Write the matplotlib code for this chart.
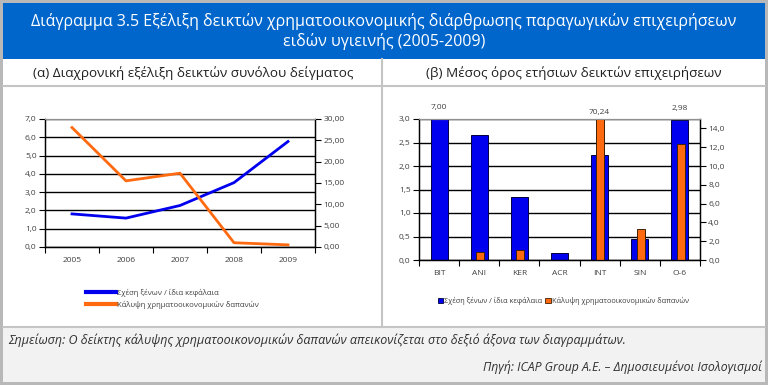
import matplotlib.pyplot as plt
import numpy as np
from matplotlib.patches import Rectangle
from matplotlib.lines import Line2D
from matplotlib.ticker import FuncFormatter, MultipleLocator

plt.rcParams['font.family'] = ['Open Sans', 'DejaVu Sans']

# (α) yearly evolution
years = ['2005', '2006', '2007', '2008', '2009']
debt_equity = [1.81, 1.58, 2.27, 3.52, 5.77]
fin_cover = [28.0, 15.5, 17.3, 1.0, 0.5]

# (β) company averages
companies = ['BIT', 'ANI', 'KER', 'ACR', 'INT', 'SIN', 'O-6']
avg_debt_equity = [7.00, 2.66, 1.33, 0.14, 2.23, 0.44, 2.98]
avg_fin_cover = [0.0, 0.88, 1.03, 0.0, 70.24, 3.3, 12.3]
labelled_left = ['BIT', 'O-6']
labelled_right = ['INT']

label1 = 'Σχέση ξένων / ίδια κεφάλαια'
label2 = 'Κάλυψη χρηματοοικονομικών δαπανών'

BLUE = '#0000ee'
ORANGE = '#ff6a10'
TXT = '#404040'

W, H = 768, 385
fig = plt.figure(figsize=(W / 100, H / 100), dpi=100)
fig.patch.set_facecolor('#b8b8b8')


def px_rect(x0, y0, x1, y1, **kw):
    fig.patches.append(Rectangle((x0 / W, 1 - y1 / H), (x1 - x0) / W, (y1 - y0) / H,
                                 transform=fig.transFigure, zorder=-2, **kw))


def px_line(xs, ys, **kw):
    fig.lines.append(Line2D([x / W for x in xs], [1 - y / H for y in ys],
                            transform=fig.transFigure, zorder=-1, **kw))


def px_text(x, y, s, **kw):
    fig.text(x / W, 1 - y / H, s, **kw)


def comma(fmt):
    return FuncFormatter(lambda v, p: format(v, fmt).replace('.', ','))


# frame
px_rect(3, 3, 765, 382, facecolor='white', edgecolor='none')
px_rect(3, 3, 765, 59, facecolor='#0066cc', edgecolor='none')
px_rect(3, 327, 765, 382, facecolor='#f2f2f2', edgecolor='none')
px_line([3, 765], [86, 86], color='#c4c4c4', lw=1.5)
px_line([382, 382], [59, 327], color='#c4c4c4', lw=1.5)
px_line([3, 765], [327, 327], color='#c4c4c4', lw=1.5)

px_text(384, 22, 'Διάγραμμα 3.5 Εξέλιξη δεικτών χρηματοοικονομικής διάρθρωσης παραγωγικών επιχειρήσεων',
        color='white', fontsize=11.5, ha='center', va='center')
px_text(384, 42, 'ειδών υγιεινής (2005-2009)', color='white', fontsize=11.5, ha='center', va='center')
px_text(193, 73, '(α) Διαχρονική εξέλιξη δεικτών συνόλου δείγματος', color='#202020',
        fontsize=9.7, ha='center', va='center')
px_text(574, 73, '(β) Μέσος όρος ετήσιων δεικτών επιχειρήσεων', color='#202020',
        fontsize=9.7, ha='center', va='center')
px_text(8, 340, 'Σημείωση: Ο δείκτης κάλυψης χρηματοοικονομικών δαπανών απεικονίζεται στο δεξιό άξονα των διαγραμμάτων.',
        color='#303030', fontsize=9, style='italic', ha='left', va='center')
px_text(762, 367, 'Πηγή: ICAP Group A.E. – Δημοσιευμένοι Ισολογισμοί',
        color='#303030', fontsize=8.8, style='italic', ha='right', va='center')


def style_axes(ax, ax2, n):
    ax.set_facecolor('none')
    ax.set_xlim(-0.5, n - 0.5)
    ax.set_xticks(range(n))
    ax.set_xticks(np.arange(n + 1) - 0.5, minor=True)
    ax.tick_params(axis='x', which='major', length=0, pad=7, labelsize=6, labelcolor=TXT)
    ax.tick_params(axis='x', which='minor', length=4, width=0.8, color='black')
    ax.tick_params(axis='y', length=4, width=0.8, labelsize=6, labelcolor=TXT, pad=2)
    ax2.tick_params(axis='y', length=4, width=0.8, labelsize=6, labelcolor=TXT, pad=2)
    ax.yaxis.grid(True, color='black', lw=1)
    ax.set_axisbelow(True)
    for a in (ax, ax2):
        for side in ('left', 'right', 'bottom'):
            a.spines[side].set_color('black')
            a.spines[side].set_linewidth(0.9)
        a.spines['top'].set_color('#909090')


# left chart
ax = fig.add_axes([45 / W, 1 - 247 / H, 270 / W, 128 / H])
ax2 = ax.twinx()
x = np.arange(len(years))
ax.plot(x, debt_equity, color=BLUE, lw=2, zorder=3)
ax2.plot(x, fin_cover, color=ORANGE, lw=2)
ax.set_ylim(0, 7)
ax.yaxis.set_major_locator(MultipleLocator(1))
ax.yaxis.set_major_formatter(comma('.1f'))
ax2.set_ylim(0, 30)
ax2.yaxis.set_major_locator(MultipleLocator(5))
ax2.yaxis.set_major_formatter(comma('.2f'))
ax.set_xticklabels(years)
style_axes(ax, ax2, len(years))
handles = [Line2D([], [], color=BLUE, lw=3), Line2D([], [], color=ORANGE, lw=3)]
fig.legend(handles, [label1, label2], loc='center left', bbox_to_anchor=(82 / W, 1 - 299 / H),
           frameon=False, fontsize=5.5, labelcolor=TXT, handlelength=4.0, handletextpad=0.1,
           labelspacing=0.5, borderpad=0)

# right chart
bx = fig.add_axes([419 / W, 1 - 260 / H, 281 / W, 141 / H])
bx2 = bx.twinx()
xc = np.arange(len(companies))
bx.bar(xc, avg_debt_equity, width=0.42, color=BLUE, edgecolor='#000040', lw=0.7)
bx2.bar(xc + 0.02, avg_fin_cover, width=0.2, color=ORANGE, edgecolor='#402000', lw=0.7)
bx.set_ylim(0, 3)
bx.yaxis.set_major_locator(MultipleLocator(0.5))
bx.yaxis.set_major_formatter(comma('.1f'))
bx2.set_ylim(0, 15)
bx2.set_yticks(np.arange(0, 15, 2))
bx2.yaxis.set_major_formatter(comma('.1f'))
bx.set_xticklabels(companies)
style_axes(bx, bx2, len(companies))
for i, c in enumerate(companies):
    if c in labelled_left:
        bx.annotate(format(avg_debt_equity[i], '.2f').replace('.', ','),
                    (i, min(avg_debt_equity[i], 3)), xytext=(0, 8), textcoords='offset points',
                    ha='center', va='center', fontsize=6, color=TXT, annotation_clip=False)
    if c in labelled_right:
        bx2.annotate(format(avg_fin_cover[i], '.2f').replace('.', ','),
                     (i, 15), xytext=(0, 5), textcoords='offset points',
                     ha='center', va='center', fontsize=6, color=TXT, annotation_clip=False)
bhandles = [Rectangle((0, 0), 1, 1, facecolor=BLUE, edgecolor='#000040', lw=0.6),
            Rectangle((0, 0), 1, 1, facecolor=ORANGE, edgecolor='#402000', lw=0.6)]
fig.legend(bhandles, [label1, label2], loc='center left', bbox_to_anchor=(434 / W, 1 - 301 / H),
           frameon=False, fontsize=5.3, labelcolor=TXT, ncol=2, handlelength=0.7, handleheight=0.7,
           handletextpad=0.2, columnspacing=0.4, borderpad=0)

fig.savefig('out.png', dpi=100, facecolor=fig.get_facecolor())
